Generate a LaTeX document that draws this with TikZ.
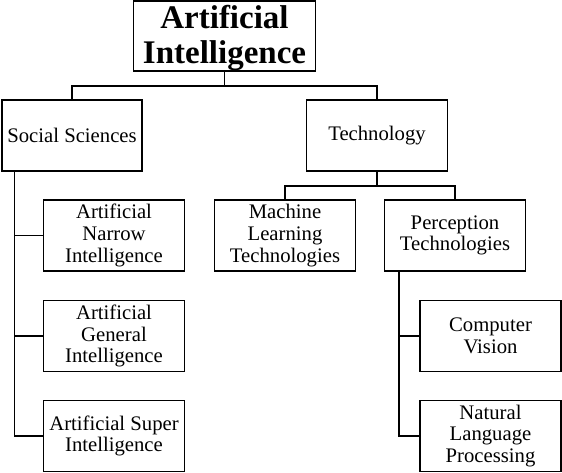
\documentclass[tikz,border=0pt]{standalone}
\usepackage{fontspec}
\setmainfont{Liberation Serif}
\begin{document}
\begin{tikzpicture}[x=1pt,y=-1pt,
  box/.style={draw,line width=1.5pt,inner sep=0pt,align=center,
    minimum width=141pt,minimum height=71pt,
    font=\fontsize{20.7}{21.7}\selectfont},
  conn/.style={line width=1.5pt}]
\useasboundingbox (0,0) rectangle (562,472);
\node[box,minimum width=181.7pt,minimum height=70.3pt] (ai) at (224.5,35.9) {};
\node[align=center,inner sep=0pt,font=\bfseries\fontsize{33}{35}\selectfont] (aitext) at (224.5,38.5) {Artificial\\Intelligence};
\node[box,minimum width=140pt] (ss) at (72,135.5) {Social Sciences};
\node[box] (tech) at (377,135.5) {Technology};
\node[box] (ani) at (114,235.5) {Artificial\\Narrow\\Intelligence};
\node[box] (agi) at (114,336) {Artificial\\General\\Intelligence};
\node[box] (asi) at (114,436) {Artificial Super\\Intelligence};
\node[box] (mlt) at (285,235.5) {Machine\\Learning\\Technologies};
\node[box] (perc) at (455,235.5) {Perception\\Technologies};
\node[box] (cv) at (490.5,336) {Computer\\Vision};
\node[box] (nlp) at (490.5,436) {Natural\\Language\\Processing};
% connectors
\coordinate (j1) at (224.5,86);
\draw[conn] (ai.south) -- (j1);
\draw[conn] (j1) -| (ss.north);
\draw[conn] (j1) -| (tech.north);
\coordinate (j2) at (377,186);
\draw[conn] (tech.south) -- (j2);
\draw[conn] (j2) -| (mlt.north);
\draw[conn] (j2) -| (perc.north);
\coordinate (l0) at (14.7,171);
\coordinate (l1) at (14.7,235.5);
\coordinate (l2) at (14.7,336);
\coordinate (l3) at (14.7,436);
\draw[conn] (l0) -- (l3) -- (asi.west);
\draw[conn] (l1) -- (ani.west);
\draw[conn] (l2) -- (agi.west);
\coordinate (p0) at (399,271);
\coordinate (p1) at (399,336);
\coordinate (p2) at (399,436);
\draw[conn] (p0) -- (p2) -- (nlp.west);
\draw[conn] (p1) -- (cv.west);
\end{tikzpicture}
\end{document}
